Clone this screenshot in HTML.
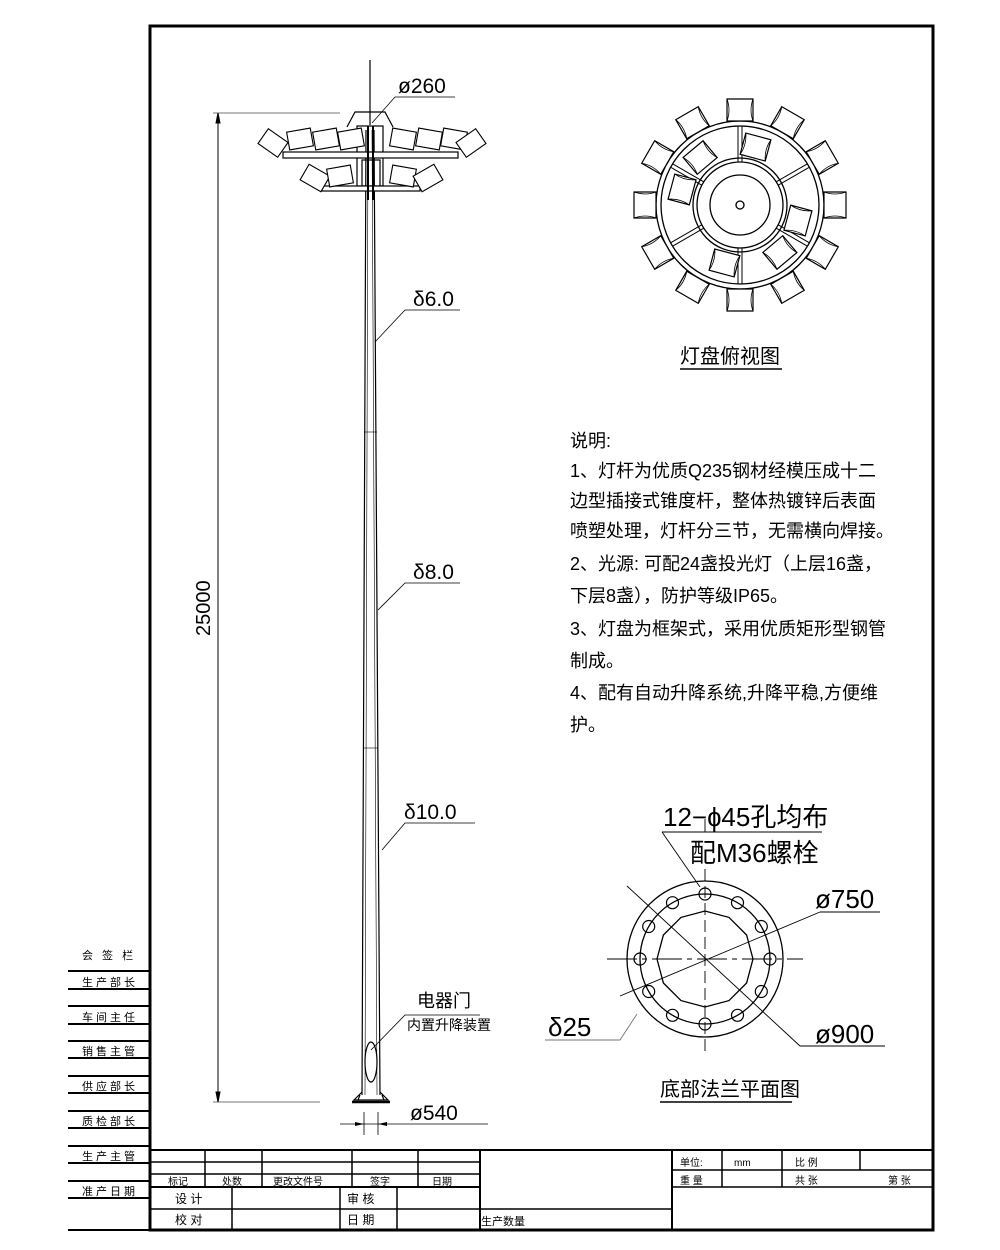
<!DOCTYPE html>
<html><head><meta charset="utf-8"><style>
html,body{margin:0;padding:0;background:#fff}
svg{display:block}
text{font-family:"Liberation Sans","Noto Sans CJK SC",sans-serif;fill:#000}
</style></head><body>
<svg width="1000" height="1250" viewBox="0 0 1000 1250" xmlns="http://www.w3.org/2000/svg">
<defs>
<g id="lamp"><path d="M-13,-11 L13,-11 L13,11 L-13,11 Z" fill="#fff" stroke="#000" stroke-width="1.2"/><path d="M-13,-11 Q-9,0 -13,11 M13,-11 Q9,0 13,11" fill="none" stroke="#000" stroke-width="0.8"/></g>
<g id="sl"><path d="M-12,-9 L12,-9 L12,9 L-12,9 Z" fill="#fff" stroke="#000" stroke-width="1.1"/></g>
</defs>
<rect x="150" y="26" width="783" height="1204" fill="none" stroke="#000" stroke-width="3"/>

<g stroke="#000" stroke-width="2">
<line x1="68" y1="971" x2="150" y2="971"/><line x1="68" y1="989" x2="150" y2="989"/>
<line x1="68" y1="1006" x2="150" y2="1006"/><line x1="68" y1="1024" x2="150" y2="1024"/>
<line x1="68" y1="1041" x2="150" y2="1041"/><line x1="68" y1="1058" x2="150" y2="1058"/>
<line x1="68" y1="1076" x2="150" y2="1076"/><line x1="68" y1="1093" x2="150" y2="1093"/>
<line x1="68" y1="1111" x2="150" y2="1111"/><line x1="68" y1="1128" x2="150" y2="1128"/>
<line x1="68" y1="1146" x2="150" y2="1146"/><line x1="68" y1="1163" x2="150" y2="1163"/>
<line x1="68" y1="1181" x2="150" y2="1181"/><line x1="68" y1="1198" x2="150" y2="1198"/>
<line x1="68" y1="1230" x2="150" y2="1230"/>
</g>
<g font-size="11" letter-spacing="3">
<text x="82" y="959">会 签 栏</text>
<text x="82" y="986">生产部长</text>
<text x="82" y="1021">车间主任</text>
<text x="82" y="1055">销售主管</text>
<text x="82" y="1090">供应部长</text>
<text x="82" y="1125">质检部长</text>
<text x="82" y="1160">生产主管</text>
<text x="82" y="1195">准产日期</text>
</g>

<g stroke="#000" fill="none">
<line x1="150" y1="1150" x2="933" y2="1150" stroke-width="2"/>
<line x1="150" y1="1162" x2="480" y2="1162" stroke-width="1.5"/>
<line x1="150" y1="1174" x2="480" y2="1174" stroke-width="1.5"/>
<line x1="150" y1="1187" x2="480" y2="1187" stroke-width="2"/>
<line x1="150" y1="1209" x2="480" y2="1209" stroke-width="1.5"/>
<line x1="480" y1="1209" x2="672" y2="1209" stroke-width="1.5"/>
<line x1="672" y1="1170" x2="933" y2="1170" stroke-width="1.5"/>
<line x1="672" y1="1187" x2="933" y2="1187" stroke-width="1.5"/>
<line x1="205" y1="1150" x2="205" y2="1187" stroke-width="1.5"/>
<line x1="262" y1="1150" x2="262" y2="1187" stroke-width="1.5"/>
<line x1="352" y1="1150" x2="352" y2="1187" stroke-width="1.5"/>
<line x1="418" y1="1150" x2="418" y2="1187" stroke-width="1.5"/>
<line x1="480" y1="1150" x2="480" y2="1230" stroke-width="2"/>
<line x1="232" y1="1187" x2="232" y2="1230" stroke-width="1.5"/>
<line x1="340" y1="1187" x2="340" y2="1230" stroke-width="1.5"/>
<line x1="397" y1="1187" x2="397" y2="1230" stroke-width="1.5"/>
<line x1="672" y1="1150" x2="672" y2="1230" stroke-width="2"/>
<line x1="722" y1="1150" x2="722" y2="1187" stroke-width="1.5"/>
<line x1="782" y1="1150" x2="782" y2="1187" stroke-width="1.5"/>
<line x1="860" y1="1150" x2="860" y2="1170" stroke-width="1.5"/>
</g>
<g font-size="10">
<text x="168" y="1185">标记</text><text x="222" y="1185">处数</text><text x="273" y="1185">更改文件号</text>
<text x="370" y="1185">签字</text><text x="432" y="1185">日期</text>
<text x="175" y="1203" font-size="12">设 计</text><text x="175" y="1224" font-size="12">校 对</text>
<text x="347" y="1203" font-size="12">审 核</text><text x="347" y="1224" font-size="12">日 期</text>
<text x="481" y="1225" font-size="11">生产数量</text>
<text x="680" y="1166">单位:</text><text x="734" y="1166">mm</text><text x="795" y="1166">比 例</text>
<text x="680" y="1184">重 量</text><text x="795" y="1184">共 张</text><text x="888" y="1184">第 张</text>
</g>

<g stroke="#000" stroke-width="1">
<line x1="218" y1="113" x2="218" y2="1102"/>
<line x1="213" y1="113" x2="340" y2="113" stroke="#777"/>
<line x1="213" y1="1102" x2="320" y2="1102" stroke="#777"/>
<path d="M218,113 l-2,10 l4,0 z M218,1102 l-2,-10 l4,0z" fill="#000"/>
</g>
<text x="0" y="0" font-size="20" transform="translate(210,636) rotate(-90)">25000</text>

<g stroke="#000" fill="none" stroke-width="1.2">
<line x1="370" y1="60" x2="370" y2="125"/>
<path d="M366,130 L362,1095 M374,130 L380,1095"/>
<path d="M368,130 L365,1095 M372,130 L377,1095" stroke-width="0.6"/>
<line x1="364" y1="432" x2="377" y2="432" stroke-width="0.6"/>
<line x1="363" y1="748" x2="378" y2="748" stroke-width="0.6"/>
<ellipse cx="371" cy="1062" rx="6" ry="20"/>
<path d="M362,1092 L354,1100 L388,1100 L380,1092 M360,1095 L358,1100 M382,1095 L384,1100"/>
<line x1="352" y1="1102" x2="390" y2="1102" stroke-width="2.5"/>
</g>
<g stroke="#000" fill="none" stroke-width="1.2">
<path d="M347,127 L355,112 L385,112 L393,127"/>
<rect x="357" y="126" width="26" height="60"/>
<rect x="362" y="160" width="18" height="30"/>
<rect x="283" y="152" width="175" height="6" fill="#fff"/>
<rect x="322" y="186" width="98" height="5" fill="#fff"/>
<line x1="368" y1="126" x2="368" y2="200" stroke-width="2"/>
<line x1="373" y1="126" x2="373" y2="200" stroke-width="2"/>
</g>
<g>
<use href="#sl" transform="translate(300,139) rotate(-10)"/>
<use href="#sl" transform="translate(326,139) rotate(-10)"/>
<use href="#sl" transform="translate(351,139) rotate(-10)"/>
<use href="#sl" transform="translate(403,139) rotate(10)"/>
<use href="#sl" transform="translate(429,139) rotate(10)"/>
<use href="#sl" transform="translate(454,139) rotate(10)"/>
<use href="#sl" transform="translate(273,143) rotate(35)"/>
<use href="#sl" transform="translate(471,143) rotate(-35)"/>
<use href="#sl" transform="translate(315,178) rotate(30)"/>
<use href="#sl" transform="translate(340,176) rotate(-10)"/>
<use href="#sl" transform="translate(403,176) rotate(10)"/>
<use href="#sl" transform="translate(428,178) rotate(-30)"/>
</g>

<g stroke="#000" stroke-width="0.8" fill="none">
<path d="M372,123 L395,97 L455,97"/>
<path d="M375,342 L405,310 L460,310"/>
<path d="M378,610 L405,583 L460,583"/>
<path d="M382,850 L405,823 L475,823"/>
<path d="M371,1050 L405,1015 L480,1015"/>
<path d="M340,1124 L488,1124"/>
<line x1="364" y1="1112" x2="364" y2="1135"/><line x1="378" y1="1112" x2="378" y2="1135"/>
</g>
<path d="M364,1124 l-9,-2 l0,4z M378,1124 l9,-2 l0,4z" fill="#000"/>
<g font-size="21">
<text x="398" y="93">ø260</text>
<text x="413" y="306">δ6.0</text>
<text x="413" y="579">δ8.0</text>
<text x="404" y="819">δ10.0</text>
<text x="417" y="1007" font-size="18">电器门</text>
<text x="407" y="1030" font-size="14">内置升降装置</text>
<text x="410" y="1120">ø540</text>
</g>

<g transform="translate(740,205)" stroke="#000" fill="none" stroke-width="1.3">
<circle r="84"/><circle r="79"/><circle r="47"/><circle r="43"/><circle r="30"/><circle r="4"/>
<g stroke-width="1">
<path d="M-2,-79 L-2,-43 M2,-79 L2,-43 M-2,79 L-2,43 M2,79 L2,43"/>
<g transform="rotate(60)"><path d="M-2,-79 L-2,-43 M2,-79 L2,-43 M-2,79 L-2,43 M2,79 L2,43"/></g>
<g transform="rotate(-60)"><path d="M-2,-79 L-2,-43 M2,-79 L2,-43 M-2,79 L-2,43 M2,79 L2,43"/></g>
</g>
</g>
<g transform="translate(740,205)">
<use href="#lamp" transform="rotate(0) translate(0,-95)"/>
<use href="#lamp" transform="rotate(30) translate(0,-95)"/>
<use href="#lamp" transform="rotate(60) translate(0,-95)"/>
<use href="#lamp" transform="rotate(90) translate(0,-95)"/>
<use href="#lamp" transform="rotate(120) translate(0,-95)"/>
<use href="#lamp" transform="rotate(150) translate(0,-95)"/>
<use href="#lamp" transform="rotate(180) translate(0,-95)"/>
<use href="#lamp" transform="rotate(210) translate(0,-95)"/>
<use href="#lamp" transform="rotate(240) translate(0,-95)"/>
<use href="#lamp" transform="rotate(270) translate(0,-95)"/>
<use href="#lamp" transform="rotate(300) translate(0,-95)"/>
<use href="#lamp" transform="rotate(330) translate(0,-95)"/>
<use href="#lamp" transform="rotate(15) translate(0,-60)"/>
<use href="#lamp" transform="rotate(105) translate(0,-60)"/>
<use href="#lamp" transform="rotate(195) translate(0,-60)"/>
<use href="#lamp" transform="rotate(285) translate(0,-60)"/>
<use href="#lamp" transform="rotate(-40) translate(0,-62)"/>
<use href="#lamp" transform="rotate(140) translate(0,-62)"/>
</g>
<text x="680" y="363" font-size="20">灯盘俯视图</text>
<line x1="680" y1="369" x2="782" y2="369" stroke="#000" stroke-width="1.5"/>

<g font-size="18">
<text x="570" y="447">说明:</text>
<text x="570" y="477">1、灯杆为优质Q235钢材经模压成十二</text>
<text x="570" y="507">边型插接式锥度杆，整体热镀锌后表面</text>
<text x="570" y="537">喷塑处理，灯杆分三节，无需横向焊接。</text>
<text x="570" y="570">2、光源: 可配24盏投光灯（上层16盏，</text>
<text x="570" y="602">下层8盏），防护等级IP65。</text>
<text x="570" y="635">3、灯盘为框架式，采用优质矩形型钢管</text>
<text x="570" y="667">制成。</text>
<text x="570" y="699">4、配有自动升降系统,升降平稳,方便维</text>
<text x="570" y="731">护。</text>
</g>

<g transform="translate(705,959)" stroke="#000" fill="none" stroke-width="1.3">
<circle r="78"/><circle r="65"/>
<polygon points="48,0 41.6,24 24,41.6 0,48 -24,41.6 -41.6,24 -48,0 -41.6,-24 -24,-41.6 0,-48 24,-41.6 41.6,-24"/>
<g stroke-width="1.2">
<circle cx="0" cy="-65" r="6"/><circle cx="32.5" cy="-56.3" r="6"/><circle cx="56.3" cy="-32.5" r="6"/>
<circle cx="65" cy="0" r="6"/><circle cx="56.3" cy="32.5" r="6"/><circle cx="32.5" cy="56.3" r="6"/>
<circle cx="0" cy="65" r="6"/><circle cx="-32.5" cy="56.3" r="6"/><circle cx="-56.3" cy="32.5" r="6"/>
<circle cx="-65" cy="0" r="6"/><circle cx="-56.3" cy="-32.5" r="6"/><circle cx="-32.5" cy="-56.3" r="6"/>
</g>
<g stroke-width="0.9">
<line x1="-98" y1="0" x2="98" y2="0" stroke-dasharray="30,5,5,5"/>
<line x1="0" y1="-90" x2="0" y2="92" stroke-dasharray="12,5"/>
<line x1="-85" y1="37" x2="115" y2="-47"/>
<line x1="-78" y1="-73" x2="95" y2="87"/>
<line x1="95" y1="87" x2="180" y2="87"/>
<line x1="115" y1="-47" x2="175" y2="-47"/>
<path d="M-43,-127 L-5,-72"/>
<path d="M-160,81 L-85,81 L-68,55" stroke="#777"/>
<path d="M-43,-127 L117,-127"/>
<line x1="0" y1="-127" x2="0" y2="-140"/>
</g>
</g>
<g font-size="26">
<text x="663" y="826">12−ɸ45孔均布</text>
<text x="690" y="862">配M36螺栓</text>
<text x="815" y="908">ø750</text>
<text x="815" y="1043">ø900</text>
<text x="548" y="1036">δ25</text>
</g>
<text x="660" y="1096" font-size="20">底部法兰平面图</text>
<line x1="660" y1="1102" x2="792" y2="1102" stroke="#000" stroke-width="1.5"/>
</svg>
</body></html>
